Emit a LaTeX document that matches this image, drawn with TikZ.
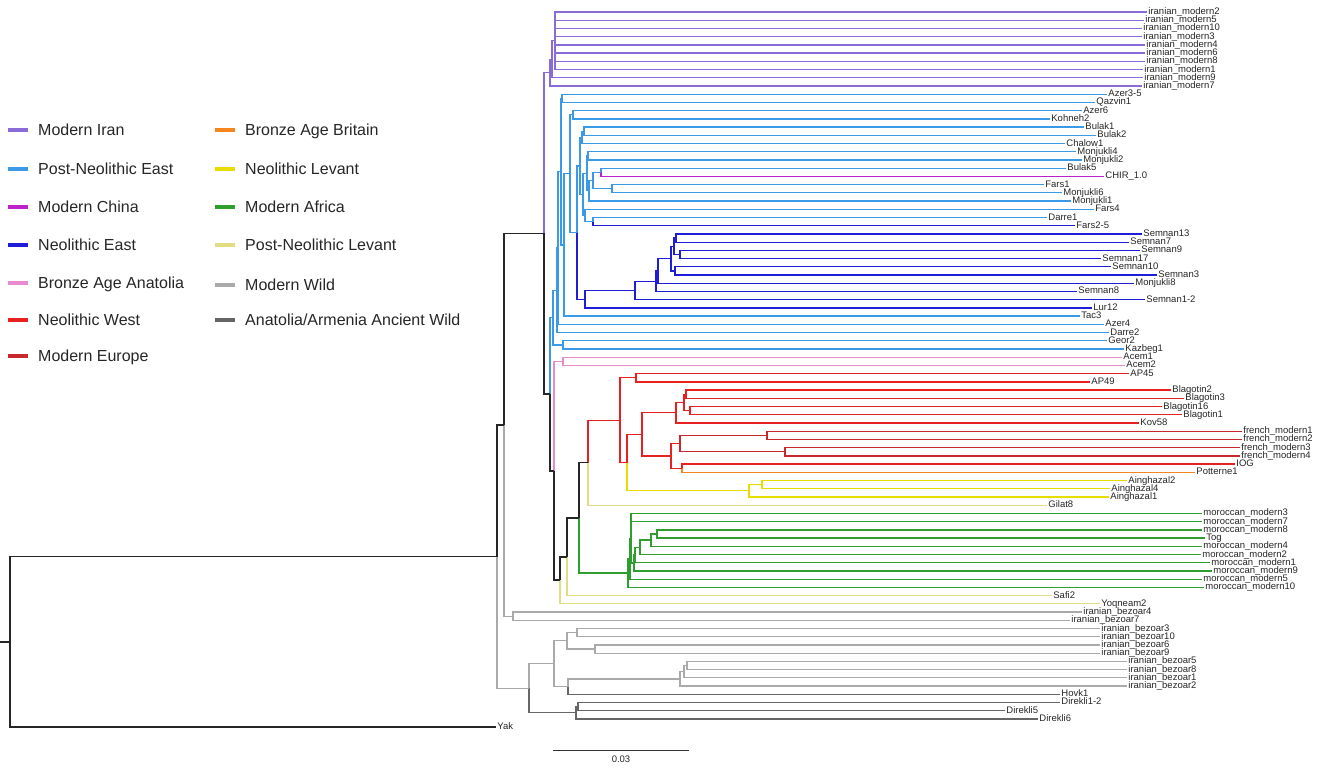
\documentclass[tikz,border=0pt]{standalone}
\usepackage{fontspec}
\setmainfont{Liberation Sans}
\usetikzlibrary{calc}
\definecolor{iranc}{HTML}{8A6CD9}
\definecolor{pnec}{HTML}{3A9AE8}
\definecolor{chinac}{HTML}{BB22CC}
\definecolor{nec}{HTML}{1E1ED8}
\definecolor{anatc}{HTML}{E88AD0}
\definecolor{nwc}{HTML}{E82020}
\definecolor{eurc}{HTML}{C8282C}
\definecolor{britc}{HTML}{F5851F}
\definecolor{nlevc}{HTML}{E8DC00}
\definecolor{afrc}{HTML}{2E9E2E}
\definecolor{plevc}{HTML}{E2DC84}
\definecolor{wildc}{HTML}{AAAAAA}
\definecolor{ancc}{HTML}{666666}
\newcommand{\clade}[4]{\coordinate (tmp) at ($(#3)!.5!(#4)$); \coordinate (#1) at (#2,0 |- tmp);}
\newcommand{\branch}[3]{\foreach \kid in {#3} \draw[#1] (#2) |- (\kid);}
\newcommand{\ancwild}{Anatolia/Armenia Ancient Wild}
\tikzset{
	edge/.style={line width=1.3pt},
	iran/.style={edge, draw=iranc}, pne/.style={edge, draw=pnec}, china/.style={edge, draw=chinac},
	neo/.style={edge, draw=nec}, anat/.style={edge, draw=anatc}, nw/.style={edge, draw=nwc},
	eur/.style={edge, draw=eurc}, brit/.style={edge, draw=britc}, nlev/.style={edge, draw=nlevc},
	afr/.style={edge, draw=afrc}, plev/.style={edge, draw=plevc}, wild/.style={edge, draw=wildc},
	anc/.style={edge, draw=ancc}, bb/.style={edge, line width=1.6pt, draw=black!85},
	leaf/.style={anchor=west, inner sep=1.2pt, font=\fontsize{9.5}{10}\selectfont, text height=5pt, text depth=0pt, text=black!85},
	swatch/.style={line width=4.5pt},
	keytext/.style={anchor=base west, inner sep=0pt, font=\fontsize{16}{18}\selectfont, text=black!85}
}
\begin{document}
\begin{tikzpicture}[x=1pt, y=-8.22pt]
	\useasboundingbox (0,-0.46) rectangle (1325,93.21);
	\foreach \tx/\lab [count=\i] in {1147/iranian\_modern2, 1144/iranian\_modern5, 1142/iranian\_modern10, 1142/iranian\_modern3, 1145/iranian\_modern4, 1145/iranian\_modern6, 1145/iranian\_modern8, 1143/iranian\_modern1, 1143/iranian\_modern9, 1142/iranian\_modern7,
		1107/Azer3-5, 1095/Qazvin1, 1082/Azer6, 1050/Kohneh2, 1084/Bulak1, 1096/Bulak2, 1065/Chalow1, 1076/Monjukli4, 1082/Monjukli2, 1066/Bulak5, 1104/CHIR\_1.0, 1044/Fars1, 1062/Monjukli6, 1071/Monjukli1, 1094/Fars4, 1047/Darre1, 1075/Fars2-5,
		1142/Semnan13, 1129/Semnan7, 1140/Semnan9, 1101/Semnan17, 1111/Semnan10, 1157/Semnan3, 1134/Monjukli8, 1077/Semnan8, 1145/Semnan1-2, 1092/Lur12, 1080/Tac3, 1104/Azer4, 1109/Darre2, 1107/Geor2, 1124/Kazbeg1,
		1122/Acem1, 1125/Acem2, 1129/AP45, 1090/AP49, 1171/Blagotin2, 1184/Blagotin3, 1162/Blagotin16, 1182/Blagotin1, 1139/Kov58, 1242/french\_modern1, 1242/french\_modern2, 1240/french\_modern3, 1240/french\_modern4, 1235/IOG, 1195/Potterne1,
		1127/Ainghazal2, 1110/Ainghazal4, 1109/Ainghazal1, 1047/Gilat8,
		1202/moroccan\_modern3, 1202/moroccan\_modern7, 1202/moroccan\_modern8, 1205/Tog, 1202/moroccan\_modern4, 1201/moroccan\_modern2, 1210/moroccan\_modern1, 1212/moroccan\_modern9, 1202/moroccan\_modern5, 1204/moroccan\_modern10,
		1052/Safi2, 1100/Yoqneam2, 1082/iranian\_bezoar4, 1070/iranian\_bezoar7, 1100/iranian\_bezoar3, 1100/iranian\_bezoar10, 1100/iranian\_bezoar6, 1100/iranian\_bezoar9, 1127/iranian\_bezoar5, 1127/iranian\_bezoar8, 1127/iranian\_bezoar1, 1127/iranian\_bezoar2, 1060/Hovk1, 1060/Direkli1-2, 1005/Direkli5, 1038/Direkli6, 496/Yak}
	{
		\coordinate (l\i) at (\tx,\i);
		\node[leaf] (t\i) at (l\i) {\lab};
	}
	% modern Iran
	\clade{P3}{555}{l1}{l8} \clade{P2}{552}{P3}{l9} \clade{P1}{550}{P2}{l10}
	\branch{iran}{P3}{l1,l2,l3,l4,l5,l6,l7,l8}
	\branch{iran}{P2}{P3,l9}
	\branch{iran}{P1}{P2,l10}
	% post-neolithic and neolithic east
	\clade{E1}{562}{l11}{l12} \clade{E2}{573}{l13}{l14}
	\clade{B1}{584}{l15}{l16} \clade{B2}{582}{B1}{l17}
	\clade{M1}{588}{l18}{l19} \clade{C1}{601}{l20}{l21} \clade{F1}{612}{l22}{l23}
	\clade{C2}{593}{C1}{F1} \clade{C3}{589}{C2}{l24} \clade{C4}{587}{M1}{C3}
	\clade{D1}{593}{l26}{l27} \clade{D2}{585}{l25}{D1}
	\clade{Bx}{583}{C4}{D2} \clade{Bk}{580}{B2}{Bx}
	\clade{S1}{676}{l28}{l29} \clade{S2}{680}{l30}{l31} \clade{S3}{674}{S1}{S2}
	\clade{S4}{675}{l32}{l33} \clade{S5}{671}{S3}{S4} \clade{S6}{658}{S5}{l34}
	\clade{S7}{656}{S6}{l35} \clade{S8}{635}{S7}{l36} \clade{S9}{585}{S8}{l37}
	\clade{Na}{577}{Bk}{S9} \clade{Nb}{570}{E2}{Na} \clade{Nc}{564}{Nb}{l38}
	\clade{Nd}{561}{E1}{Nc} \clade{Ne}{558}{Nd}{l39} \clade{Nf}{557}{Ne}{l40}
	\clade{K}{563}{l41}{l42} \clade{Q}{553}{Nf}{K}
	\branch{pne}{E1}{l11,l12} \branch{pne}{E2}{l13,l14}
	\branch{pne}{B1}{l15,l16} \branch{pne}{B2}{B1,l17}
	\branch{pne}{M1}{l18,l19} \branch{pne}{C1}{l20} \branch{china}{C1}{l21}
	\branch{pne}{F1}{l22,l23} \branch{pne}{C2}{C1,F1} \branch{pne}{C3}{C2,l24} \branch{pne}{C4}{M1,C3}
	\branch{pne}{D1}{l26} \branch{neo}{D1}{l27} \branch{pne}{D2}{l25,D1}
	\branch{pne}{Bx}{C4,D2} \branch{pne}{Bk}{B2,Bx}
	\branch{neo}{S1}{l28,l29} \branch{neo}{S2}{l30,l31} \branch{neo}{S3}{S1,S2}
	\branch{neo}{S4}{l32,l33} \branch{neo}{S5}{S3,S4} \branch{neo}{S6}{S5,l34}
	\branch{neo}{S7}{S6,l35} \branch{neo}{S8}{S7,l36} \branch{neo}{S9}{S8,l37}
	\branch{pne}{Na}{Bk} \branch{neo}{Na}{S9}
	\branch{pne}{Nb}{E2,Na} \branch{pne}{Nc}{Nb,l38} \branch{pne}{Nd}{E1,Nc}
	\branch{pne}{Ne}{Nd,l39} \branch{pne}{Nf}{Ne,l40}
	\branch{pne}{K}{l41,l42} \branch{pne}{Q}{Nf,K}
	% anatolia, west, levant
	\clade{Ac}{563}{l43}{l44}
	\clade{AP}{636}{l45}{l46}
	\clade{G1}{686}{l47}{l48} \clade{G2}{690}{l49}{l50} \clade{G3}{684}{G1}{G2} \clade{G4}{676}{G3}{l51}
	\clade{H1}{767}{l52}{l53} \clade{H2}{785}{l54}{l55} \clade{H3}{680}{H1}{H2}
	\clade{H4}{682}{l56}{l57} \clade{H5}{671}{H3}{H4}
	\clade{W2}{642}{G4}{H5}
	\clade{J1}{762}{l58}{l59} \clade{J2}{749}{J1}{l60}
	\clade{W3}{627}{W2}{J2} \clade{W4}{620}{AP}{W3} \clade{W5}{588}{W4}{l61}
	\branch{anat}{Ac}{l43,l44}
	\branch{nw}{AP}{l45,l46}
	\branch{nw}{G1}{l47,l48} \branch{nw}{G2}{l49,l50} \branch{nw}{G3}{G1,G2} \branch{nw}{G4}{G3,l51}
	\branch{eur}{H1}{l52,l53} \branch{eur}{H2}{l54,l55} \branch{eur}{H3}{H1,H2}
	\branch{nw}{H4}{l56} \branch{brit}{H4}{l57} \branch{nw}{H5}{H3,H4}
	\branch{nw}{W2}{G4,H5}
	\branch{nlev}{J1}{l58,l59} \branch{nlev}{J2}{J1,l60}
	\branch{nw}{W3}{W2} \branch{nlev}{W3}{J2} \branch{nw}{W4}{AP,W3}
	\branch{nw}{W5}{W4} \branch{plev}{W5}{l61}
	% africa
	\clade{Y1}{657}{l64}{l65} \clade{Y2}{651}{Y1}{l66} \clade{Y3}{640}{Y2}{l67}
	\clade{Y4}{635}{Y3}{l68} \clade{Y5}{634}{Y4}{l69} \clade{Y6}{631}{l62}{Y5}
	\clade{Y7}{630}{Y6}{l70} \clade{Y8}{628}{Y7}{l71}
	\branch{afr}{Y1}{l64,l65} \branch{afr}{Y2}{Y1,l66} \branch{afr}{Y3}{Y2,l67}
	\branch{afr}{Y4}{Y3,l68} \branch{afr}{Y5}{Y4,l69} \branch{afr}{Y6}{l62,l63,Y5}
	\branch{afr}{Y7}{Y6,l70} \branch{afr}{Y8}{Y7,l71}
	% backbone
	\clade{V1}{579}{W5}{Y8} \clade{V2}{567}{V1}{l72} \clade{V3}{560}{V2}{l73}
	\clade{V4}{554}{Ac}{V3} \clade{D}{550}{Q}{V4} \clade{C}{544}{P1}{D}
	\clade{Bz}{513}{l74}{l75} \clade{B}{504}{C}{Bz}
	\branch{bb}{V1}{W5} \branch{afr}{V1}{Y8}
	\branch{bb}{V2}{V1} \branch{plev}{V2}{l72}
	\branch{bb}{V3}{V2} \branch{plev}{V3}{l73}
	\branch{anat}{V4}{Ac} \branch{bb}{V4}{V3}
	\branch{pne}{D}{Q} \branch{bb}{D}{V4}
	\branch{iran}{C}{P1} \branch{bb}{C}{D}
	\branch{wild}{Bz}{l74,l75} \branch{bb}{B}{C} \branch{wild}{B}{Bz}
	% wild
	\clade{Z1}{577}{l76}{l77} \clade{Z2}{595}{l78}{l79} \clade{Z3}{567}{Z1}{Z2}
	\clade{Z4}{687}{l80}{l81} \clade{Z5}{684}{Z4}{l82} \clade{Z6}{680}{Z5}{l83}
	\clade{Z7}{568}{Z6}{l84} \clade{Z8}{554}{Z3}{Z7}
	\clade{X1}{578}{l85}{l86} \clade{X2}{576}{X1}{l87}
	\clade{Z9}{529}{Z8}{X2} \clade{A}{497}{B}{Z9} \clade{R}{10}{A}{l88}
	\branch{wild}{Z1}{l76,l77} \branch{wild}{Z2}{l78,l79} \branch{wild}{Z3}{Z1,Z2}
	\branch{wild}{Z4}{l80,l81} \branch{wild}{Z5}{Z4,l82} \branch{wild}{Z6}{Z5,l83}
	\branch{wild}{Z7}{Z6} \branch{anc}{Z7}{l84} \branch{wild}{Z8}{Z3,Z7}
	\branch{anc}{X1}{l85,l86} \branch{anc}{X2}{X1,l87}
	\branch{wild}{Z9}{Z8} \branch{anc}{Z9}{X2}
	\branch{bb}{A}{B} \branch{wild}{A}{Z9}
	\branch{bb}{R}{A,l88}
	\draw[bb] (R) -- ++(-10,0);
	% legend
	\foreach \ky/\st/\lab [count=\k] in {15.36/iran/Modern Iran, 20.10/pne/Post-Neolithic East, 24.72/china/Modern China, 29.35/neo/Neolithic East, 33.97/anat/Bronze Age Anatolia, 38.47/nw/Neolithic West, 42.85/eur/Modern Europe}
	{
		\draw[\st, swatch] (8,\ky) -- (28,\ky);
		\node[keytext] (ka\k) at (38,\ky+0.69) {\lab};
	}
	\foreach \ky/\st/\lab [count=\k] in {15.36/brit/Bronze Age Britain, 20.10/nlev/Neolithic Levant, 24.72/afr/Modern Africa, 29.35/plev/Post-Neolithic Levant, 34.21/wild/Modern Wild, 38.47/anc/\ancwild}
	{
		\draw[\st, swatch] (215,\ky) -- (235,\ky);
		\node[keytext] (kb\k) at (245,\ky+0.69) {\lab};
	}
	% scale bar
	\coordinate (sba) at (553,90.78);
	\coordinate (sbb) at (689,90.78);
	\draw[line width=0.8pt, black!80] (sba) -- (sbb);
	\node[leaf, anchor=center] (sbt) at ($(sba)!.5!(sbb)+(0,1.2)$) {0.03};
\end{tikzpicture}
\end{document}
